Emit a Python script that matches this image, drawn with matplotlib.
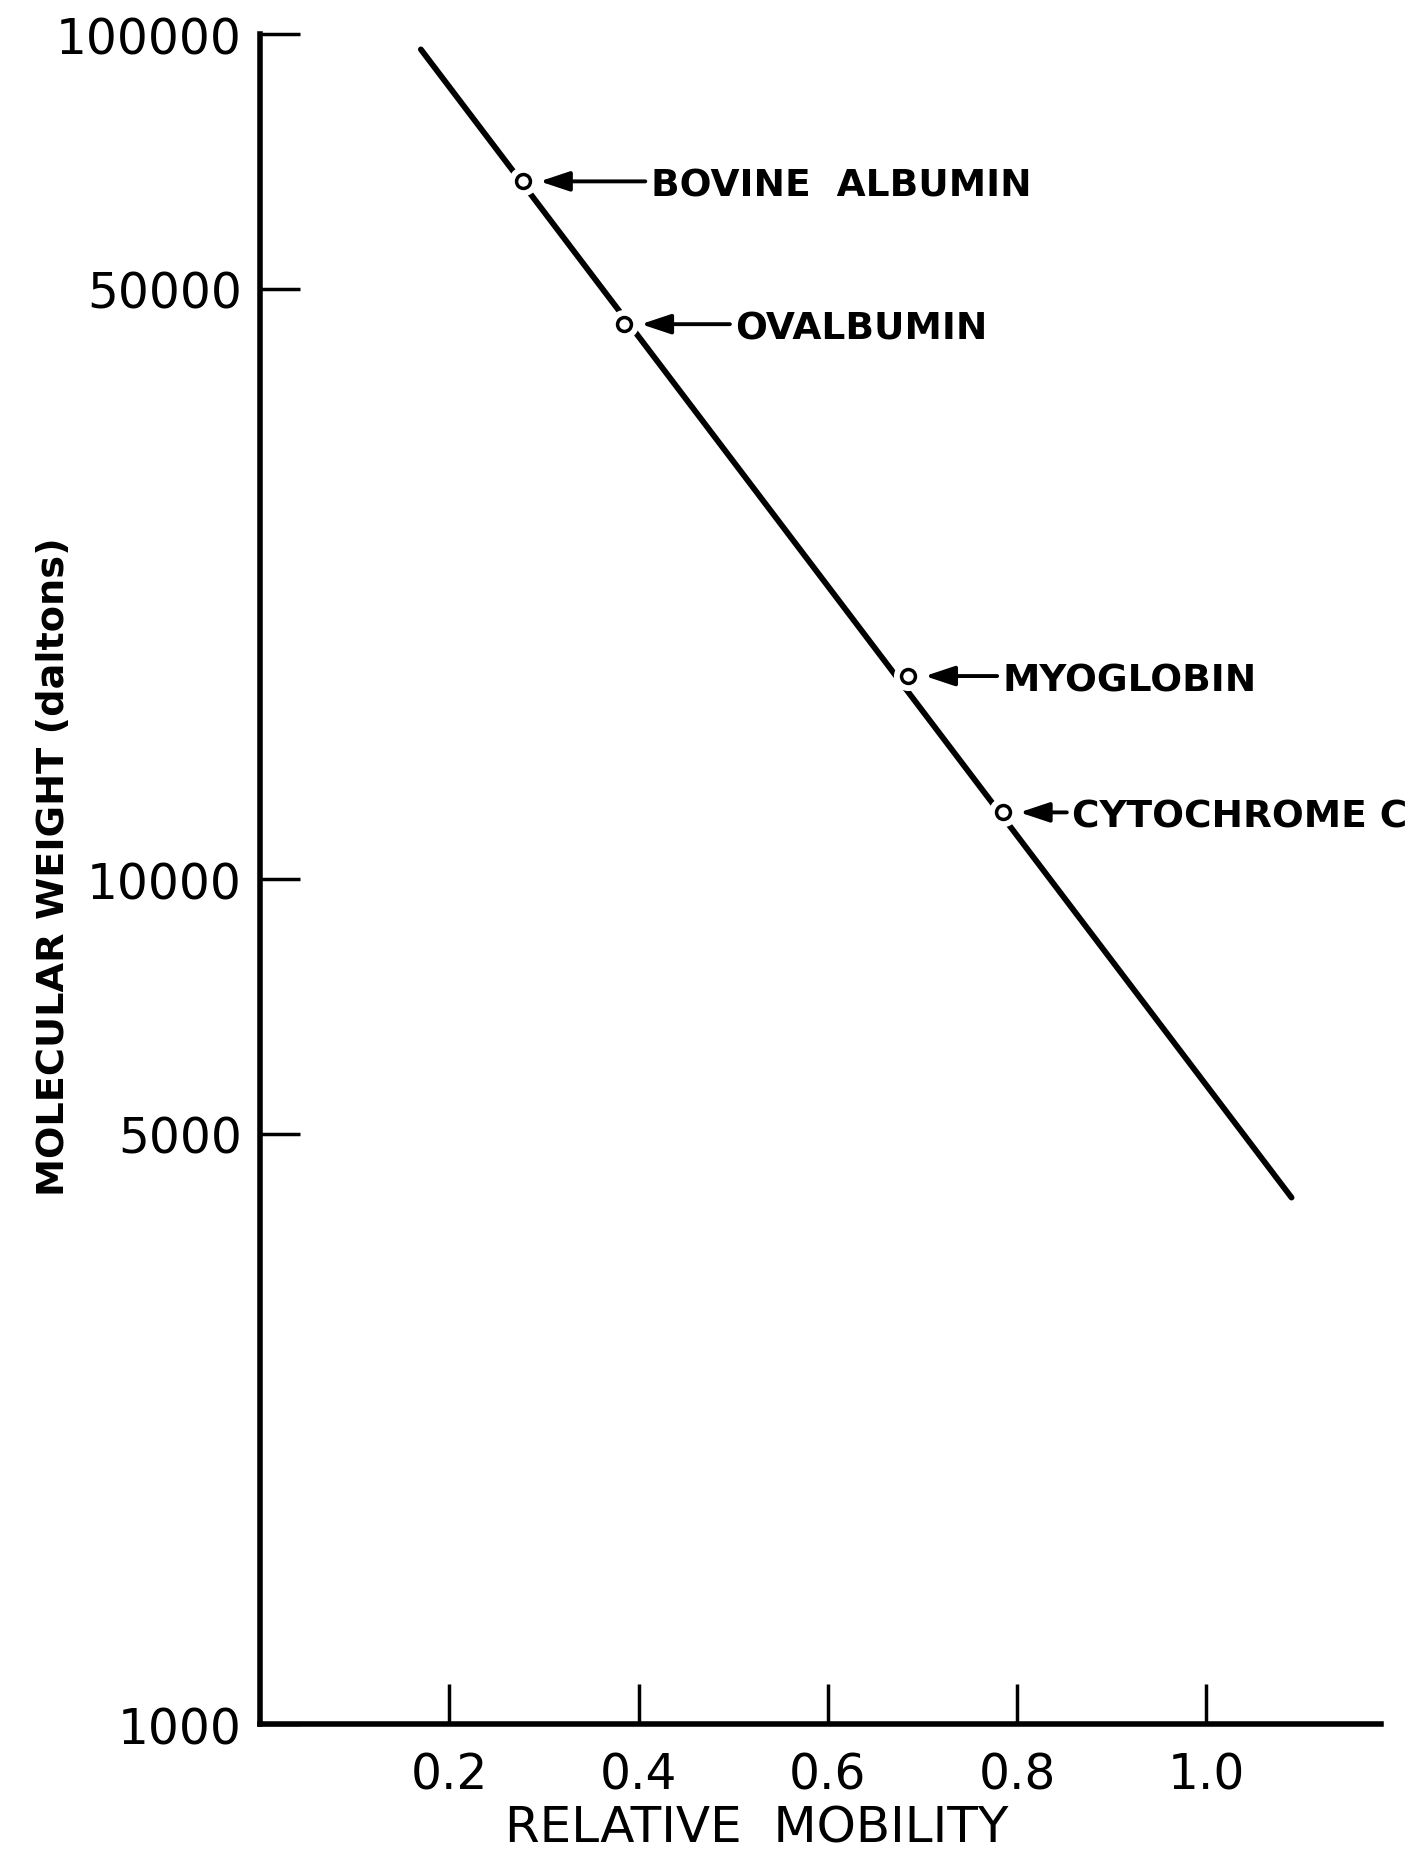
import matplotlib
matplotlib.use("Agg")
import matplotlib.pyplot as plt
from matplotlib.ticker import NullLocator, FixedLocator, FixedFormatter

# calibration line
line_x = [0.17, 1.09]
line_y = [96000, 4200]

# marker proteins
proteins = ["BOVINE  ALBUMIN", "OVALBUMIN", "MYOGLOBIN", "CYTOCHROME C"]
mobility = [0.278, 0.385, 0.685, 0.785]
mol_weight = [67000, 45400, 17400, 12000]

y_ticks = [1000, 5000, 10000, 50000, 100000]
y_ticklabels = ["1000", "5000", "10000", "50000", "100000"]
x_ticks = [0.2, 0.4, 0.6, 0.8, 1.0]
x_ticklabels = ["0.2", "0.4", "0.6", "0.8", "1.0"]

# how far right of the point each label starts (points)
label_offsets = [92, 80, 68, 50]

plt.rcParams['font.family'] = ['DejaVu Sans']

fig = plt.figure(figsize=(14.13, 18.65), dpi=100)
ax = fig.add_axes([0.184, 0.075, 0.793, 0.906])

ax.set_yscale("log")
ax.set_xlim(0, 1.184)
ax.set_ylim(1000, 100000)

ax.plot(line_x, line_y, color="black", lw=4.2, solid_capstyle="round", zorder=2)
# white halo so the line is broken around each point
ax.plot(mobility, mol_weight, "o", ms=20, mfc="white", mec="white", zorder=3)
ax.plot(mobility, mol_weight, "o", ms=10, mfc="white", mec="black", mew=2.5, zorder=4)

for name, x, y, off in zip(proteins, mobility, mol_weight, label_offsets):
    ax.annotate(name, xy=(x, y), xytext=(off, -3), textcoords="offset points",
                ha="left", va="center", fontsize=27, fontweight="bold")
    ax.annotate("", xy=(x, y), xytext=(off - 4, 0), textcoords="offset points",
                arrowprops=dict(arrowstyle="-|>,head_length=0.9,head_width=0.3",
                                color="black", lw=2.8, shrinkA=0, shrinkB=12,
                                mutation_scale=20))

for side in ["top", "right"]:
    ax.spines[side].set_visible(False)
for side in ["left", "bottom"]:
    ax.spines[side].set_linewidth(4)

ax.yaxis.set_major_locator(FixedLocator(y_ticks))
ax.yaxis.set_major_formatter(FixedFormatter(y_ticklabels))
ax.yaxis.set_minor_locator(NullLocator())
ax.set_xticks(x_ticks)
ax.set_xticklabels(x_ticklabels)

ax.tick_params(axis="y", direction="in", length=29, width=2.5, pad=13, labelsize=35)
ax.tick_params(axis="x", direction="in", length=29, width=2.5, pad=19, labelsize=35)

ax.set_ylabel("MOLECULAR WEIGHT (daltons)", fontsize=27.5, fontweight="bold")
ax.yaxis.set_label_coords(-0.168, 0.508)
ax.set_xlabel("RELATIVE  MOBILITY", fontsize=36)
ax.xaxis.set_label_coords(0.443, -0.047)
ax.xaxis.label.set_va("top")

fig.savefig("out.png", dpi=100)
